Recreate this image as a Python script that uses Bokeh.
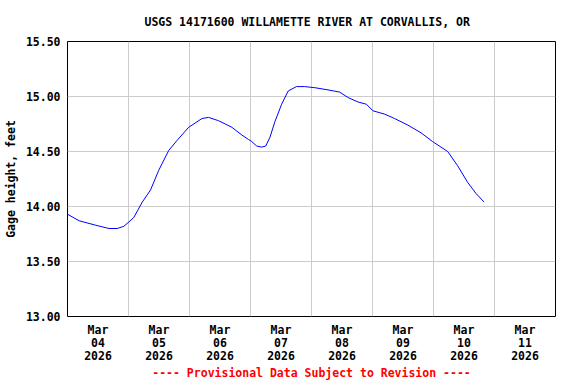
import pandas as pd
from bokeh.plotting import figure
from bokeh.models import Range1d, FixedTicker, ColumnDataSource
from bokeh.embed import file_html
from bokeh.resources import INLINE

title = "USGS 14171600 WILLAMETTE RIVER AT CORVALLIS, OR"
y_label = "Gage height, feet"
note = "---- Provisional Data Subject to Revision ----"

times = [
    "2026-03-04 00:00", "2026-03-04 04:35", "2026-03-04 11:05", "2026-03-04 16:20",
    "2026-03-04 19:35", "2026-03-04 22:10", "2026-03-05 00:10", "2026-03-05 02:05",
    "2026-03-05 05:25", "2026-03-05 08:40", "2026-03-05 11:55", "2026-03-05 15:50",
    "2026-03-05 19:05", "2026-03-05 23:40", "2026-03-06 04:55", "2026-03-06 07:30",
    "2026-03-06 11:25", "2026-03-06 16:40", "2026-03-06 20:35", "2026-03-06 23:10",
    "2026-03-07 00:30", "2026-03-07 02:25", "2026-03-07 04:25", "2026-03-07 06:00",
    "2026-03-07 07:40", "2026-03-07 09:35", "2026-03-07 12:15", "2026-03-07 14:50",
    "2026-03-07 18:05", "2026-03-07 21:20", "2026-03-08 01:20", "2026-03-08 06:30",
    "2026-03-08 11:05", "2026-03-08 14:25", "2026-03-08 18:20", "2026-03-08 21:35",
    "2026-03-09 00:10", "2026-03-09 04:45", "2026-03-09 08:40", "2026-03-09 13:55",
    "2026-03-09 19:05", "2026-03-09 23:40", "2026-03-10 05:35", "2026-03-10 09:30",
    "2026-03-10 13:25", "2026-03-10 16:40", "2026-03-10 19:55",
]
gage_ft = [
    13.93, 13.87, 13.83, 13.80,
    13.80, 13.82, 13.86, 13.90,
    14.04, 14.15, 14.33, 14.51,
    14.60, 14.72, 14.80, 14.81,
    14.78, 14.72, 14.65, 14.61,
    14.59, 14.55, 14.54, 14.55,
    14.63, 14.77, 14.93, 15.05,
    15.09, 15.09, 15.08, 15.06,
    15.04, 14.99, 14.95, 14.93,
    14.87, 14.84, 14.80, 14.74,
    14.67, 14.59, 14.50, 14.37,
    14.22, 14.12, 14.04,
]
day_labels = ["Mar\n04\n2026", "Mar\n05\n2026", "Mar\n06\n2026", "Mar\n07\n2026",
              "Mar\n08\n2026", "Mar\n09\n2026", "Mar\n10\n2026", "Mar\n11\n2026"]
y_ticks = [13.0, 13.5, 14.0, 14.5, 15.0, 15.5]

t0 = pd.Timestamp("2026-03-04 00:00")
hours = [(pd.Timestamp(t) - t0).total_seconds() / 3600.0 for t in times]
n_days = len(day_labels)

FONT = "DejaVu Sans Mono"
FS = "11.5px"

p = figure(width=576, height=384, output_backend="svg", toolbar_location=None,
           x_range=Range1d(0, 24 * n_days), y_range=Range1d(13.0, 15.5),
           min_border_left=65, min_border_right=21, min_border_top=41,
           min_border_bottom=68)
p.background_fill_color = "white"
p.border_fill_color = "white"
p.outline_line_color = "black"
p.outline_line_width = 1

p.title.text = title
p.title.align = "left"
p.title.text_font = FONT
p.title.text_font_size = FS
p.title.text_font_style = "bold"
p.title.text_color = "black"
p.title.standoff = 25
p.title.offset = 77

src = ColumnDataSource(dict(h=hours, v=gage_ft))
p.line("h", "v", source=src, line_color="#0000ff", line_width=1)

# x axis: labels at noon, grid at midnight
tick_pos = [24 * i + 12 for i in range(n_days)]
xa = p.xaxis[0]
xa.ticker = FixedTicker(ticks=tick_pos)
xa.major_label_overrides = {tp: lab for tp, lab in zip(tick_pos, day_labels)}
xa.major_tick_in = 0
xa.major_tick_out = 0
xa.minor_tick_line_color = None
xa.axis_line_color = None
xa.major_label_text_font = FONT
xa.major_label_text_font_size = FS
xa.major_label_text_font_style = "bold"
xa.major_label_text_color = "black"
xa.major_label_text_line_height = 0.95
xa.major_label_standoff = 6
xa.axis_label = note
xa.axis_label_text_font = FONT
xa.axis_label_text_font_size = FS
xa.axis_label_text_font_style = "bold"
xa.axis_label_text_color = "#ff0000"
xa.axis_label_standoff = 0

p.xgrid[0].ticker = FixedTicker(ticks=[24 * i for i in range(1, n_days)])
p.xgrid[0].grid_line_color = "#cccccc"
p.xgrid[0].grid_line_width = 1

ya = p.yaxis[0]
ya.ticker = FixedTicker(ticks=y_ticks)
ya.major_label_overrides = {v: f"{v:.2f}" for v in y_ticks}
ya.major_tick_in = 0
ya.major_tick_out = 0
ya.minor_tick_line_color = None
ya.axis_line_color = None
ya.major_label_text_font = FONT
ya.major_label_text_font_size = FS
ya.major_label_text_font_style = "bold"
ya.major_label_text_color = "black"
ya.major_label_standoff = 7
ya.axis_label = y_label
ya.axis_label_text_font = FONT
ya.axis_label_text_font_size = FS
ya.axis_label_text_font_style = "bold"
ya.axis_label_text_color = "black"
ya.axis_label_standoff = 5

p.ygrid[0].ticker = FixedTicker(ticks=y_ticks)
p.ygrid[0].grid_line_color = "#cccccc"
p.ygrid[0].grid_line_width = 1

open("out.html", "w").write(file_html(p, INLINE))
